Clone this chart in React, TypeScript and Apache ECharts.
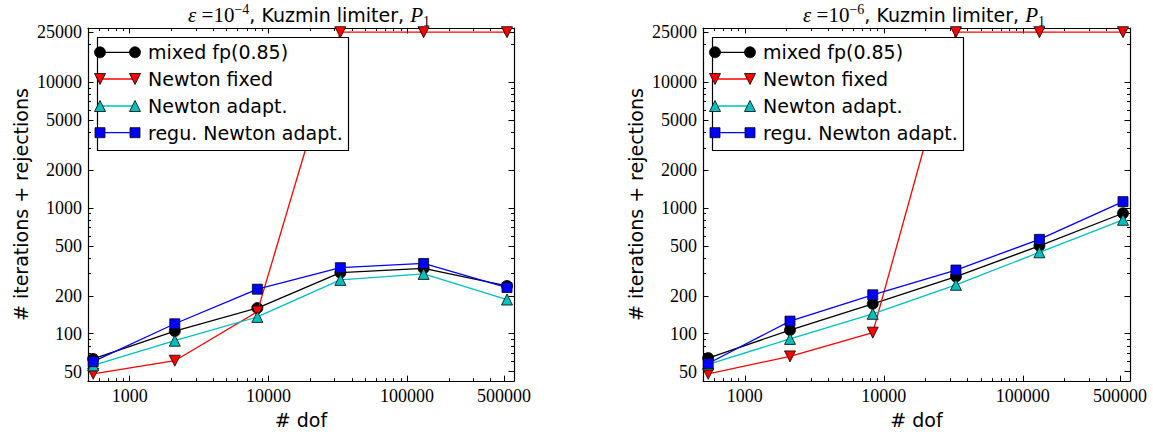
import React, { useEffect, useRef } from "react";
import * as echarts from "echarts";

// ---------- data ----------
const dof = [545, 2113, 8321, 33025, 131585, 525313];

const leftMixed = [63, 105, 160, 306, 331, 240];
const leftNewtonFixed = [48, 61, 150, 25000, 25000, 25000];
const leftNewtonAdapt = [56, 88, 136, 268, 299, 187];
const leftReguNewton = [60, 120, 226, 335, 362, 233];

const rightMixed = [64, 107, 173, 285, 500, 908];
const rightNewtonFixed = [48, 66, 102, 25000, 25000, 25000];
const rightNewtonAdapt = [57, 91, 144, 245, 444, 805];
const rightReguNewton = [58, 126, 204, 321, 563, 1123];

const xTickLabels = [1000, 10000, 100000, 500000];
const xMinorTicks = [600, 700, 800, 900, 2000, 3000, 4000, 5000, 6000, 7000, 8000, 9000,
  20000, 30000, 40000, 50000, 60000, 70000, 80000, 90000, 200000, 300000, 400000];
const yTickLabels = [50, 100, 200, 500, 1000, 2000, 5000, 10000, 25000];
const yMinorTicks = [60, 70, 80, 90, 300, 400, 600, 700, 800, 900, 3000, 4000, 6000, 7000, 8000, 9000, 20000];

const xMin = 500;
const xMax = 590000;
const yMin = 42;
const yMax = 27000;

const seriesNames = ["mixed fp(0.85)", "Newton fixed", "Newton adapt.", "regu. Newton adapt."];
const seriesColors = ["#000000", "#ff0000", "#00bfbf", "#0000ff"];
const seriesKinds = ["circle", "down", "up", "square"];

const leftData = [leftMixed, leftNewtonFixed, leftNewtonAdapt, leftReguNewton];
const rightData = [rightMixed, rightNewtonFixed, rightNewtonAdapt, rightReguNewton];

// ---------- helpers ----------
const L = (v: number) => Math.log10(v);
const SERIF = "Liberation Serif";
const SANS = "DejaVu Sans";
const fmt = (v: number) => String(Math.round(Math.pow(10, v)));

const grids = [
  { left: 88, top: 28, width: 426, height: 357 },
  { left: 703, top: 28, width: 427, height: 357 },
];

const tickLabelStyle = {
  show: true, formatter: fmt, margin: 6, fontFamily: SERIF, fontSize: 18,
  fontWeight: "normal", color: "#000", textStyle: { fontFamily: SERIF },
};

function xAxes(gridIndex: number) {
  const base: any = {
    type: "value", gridIndex, min: L(xMin), max: L(xMax),
    splitLine: { show: false }, axisLabel: { show: false },
    axisLine: { show: false }, axisPointer: { show: false },
  };
  const line = { show: true, onZero: false, lineStyle: { color: "#000", width: 1.2 } };
  const major = { show: true, inside: true, length: 5.5, customValues: xTickLabels.map(L), lineStyle: { color: "#000", width: 1 } };
  const minor = { show: true, inside: true, length: 3, customValues: xMinorTicks.map(L), lineStyle: { color: "#000", width: 1 } };
  return [
    {
      ...base, position: "bottom", axisLine: line, axisTick: major,
      axisLabel: { ...tickLabelStyle, customValues: xTickLabels.map(L) },
      name: "# dof", nameLocation: "middle", nameGap: 24,
      nameTextStyle: { fontFamily: SANS, fontSize: 19, color: "#000" },
    },
    { ...base, position: "bottom", axisTick: minor },
    { ...base, position: "top", axisLine: line, axisTick: major },
    { ...base, position: "top", axisTick: minor },
  ];
}

function yAxes(gridIndex: number) {
  const base: any = {
    type: "value", gridIndex, min: L(yMin), max: L(yMax),
    splitLine: { show: false }, axisLabel: { show: false },
    axisLine: { show: false }, axisPointer: { show: false },
  };
  const line = { show: true, onZero: false, lineStyle: { color: "#000", width: 1.2 } };
  const major = { show: true, inside: true, length: 5.5, customValues: yTickLabels.map(L), lineStyle: { color: "#000", width: 1 } };
  const minor = { show: true, inside: true, length: 3, customValues: yMinorTicks.map(L), lineStyle: { color: "#000", width: 1 } };
  return [
    {
      ...base, position: "left", axisLine: line, axisTick: major,
      axisLabel: { ...tickLabelStyle, customValues: yTickLabels.map(L) },
      name: "# iterations + rejections", nameLocation: "middle", nameGap: 58, nameRotate: 90,
      nameTextStyle: { fontFamily: SANS, fontSize: 19, color: "#000" },
    },
    { ...base, position: "left", axisTick: minor },
    { ...base, position: "right", axisLine: line, axisTick: major },
    { ...base, position: "right", axisTick: minor },
  ];
}

function symbolFor(kind: string) {
  if (kind === "circle") return { symbol: "circle", symbolSize: 11, symbolRotate: 0 };
  if (kind === "down") return { symbol: "triangle", symbolSize: 11, symbolRotate: 180 };
  if (kind === "up") return { symbol: "triangle", symbolSize: 11, symbolRotate: 0 };
  return { symbol: "rect", symbolSize: 10, symbolRotate: 0 };
}

function buildSeries(data: number[][], axisBase: number) {
  return data.map((vals, i) => ({
    type: "line",
    name: seriesNames[i],
    xAxisIndex: axisBase,
    yAxisIndex: axisBase,
    data: dof.map((x, j) => [L(x), L(vals[j])]),
    ...symbolFor(seriesKinds[i]),
    showSymbol: true,
    clip: false,
    z: 2 + i,
    lineStyle: { color: seriesColors[i], width: 1.3 },
    itemStyle: { color: seriesColors[i], borderColor: "#000", borderWidth: 0.8 },
    emphasis: { disabled: true },
  }));
}

function legendMarker(kind: string, cx: number, cy: number, color: string, z: number) {
  const style = { fill: color, stroke: "#000", lineWidth: 0.8 };
  const s = 5.5;
  if (kind === "circle") return { type: "circle", shape: { cx, cy, r: s }, style, z };
  if (kind === "square") return { type: "rect", shape: { x: cx - 5, y: cy - 5, width: 10, height: 10 }, style, z };
  if (kind === "down")
    return { type: "polygon", shape: { points: [[cx - s, cy - s], [cx + s, cy - s], [cx, cy + s]] }, style, z };
  return { type: "polygon", shape: { points: [[cx, cy - s], [cx - s, cy + s], [cx + s, cy + s]] }, style, z };
}

function legendGraphic(dx: number) {
  const z = 100;
  const els: any[] = [
    { type: "rect", shape: { x: 97.5 + dx, y: 37.5, width: 251, height: 113 }, style: { fill: "#fff", stroke: "#000", lineWidth: 1.2 }, z },
  ];
  const rows = [52.3, 79, 106, 132.7];
  seriesNames.forEach((name, i) => {
    const y = rows[i];
    els.push({ type: "line", shape: { x1: 100 + dx, y1: y, x2: 135 + dx, y2: y }, style: { stroke: seriesColors[i], lineWidth: 1.3 }, z });
    els.push(legendMarker(seriesKinds[i], 100 + dx, y, seriesColors[i], z + 1));
    els.push(legendMarker(seriesKinds[i], 135 + dx, y, seriesColors[i], z + 1));
    els.push({
      type: "text", x: 148 + dx, y, z,
      style: { text: name, fontFamily: SANS, fontSize: 19, fill: "#000", align: "left", verticalAlign: "middle" },
    });
  });
  return els;
}

function titleFor(exp: string, centerX: number) {
  const common = { color: "#000", fontWeight: "normal" };
  return {
    text: `{e|ε}{n| =10}{sup|${exp}}{s|, Kuzmin limiter, }{p|P}{sub|1}`,
    left: centerX,
    top: -3,
    textAlign: "center",
    textStyle: {
      fontWeight: "normal",
      rich: {
        e: { ...common, fontFamily: SERIF, fontStyle: "italic", fontSize: 21, lineHeight: 26 },
        n: { ...common, fontFamily: SERIF, fontSize: 21, lineHeight: 26 },
        sup: { ...common, fontFamily: SERIF, fontSize: 14, lineHeight: 14, verticalAlign: "top" },
        s: { ...common, fontFamily: SANS, fontSize: 19, lineHeight: 26 },
        p: { ...common, fontFamily: SERIF, fontStyle: "italic", fontSize: 21, lineHeight: 26 },
        sub: { ...common, fontFamily: SERIF, fontSize: 14, lineHeight: 14, verticalAlign: "bottom" },
      },
    },
  };
}

export default function App() {
  const ref = useRef<HTMLDivElement>(null);
  useEffect(() => {
    if (!ref.current) return;
    const chart = echarts.init(ref.current, undefined, { renderer: "svg" });
    const option: any = {
      animation: false,
      backgroundColor: "#fff",
      textStyle: { fontFamily: SERIF },
      title: [titleFor("−4", 304), titleFor("−6", 919)],
      grid: grids,
      xAxis: [...xAxes(0), ...xAxes(1)],
      yAxis: [...yAxes(0), ...yAxes(1)],
      series: [...buildSeries(leftData, 0), ...buildSeries(rightData, 4)],
      graphic: [...legendGraphic(0), ...legendGraphic(615)],
    };
    chart.setOption(option);
    return () => chart.dispose();
  }, []);
  return (
    <div
      ref={ref}
      style={{ position: "absolute", left: 0, top: 0, width: 1153, height: 434, background: "#fff" }}
    />
  );
}
